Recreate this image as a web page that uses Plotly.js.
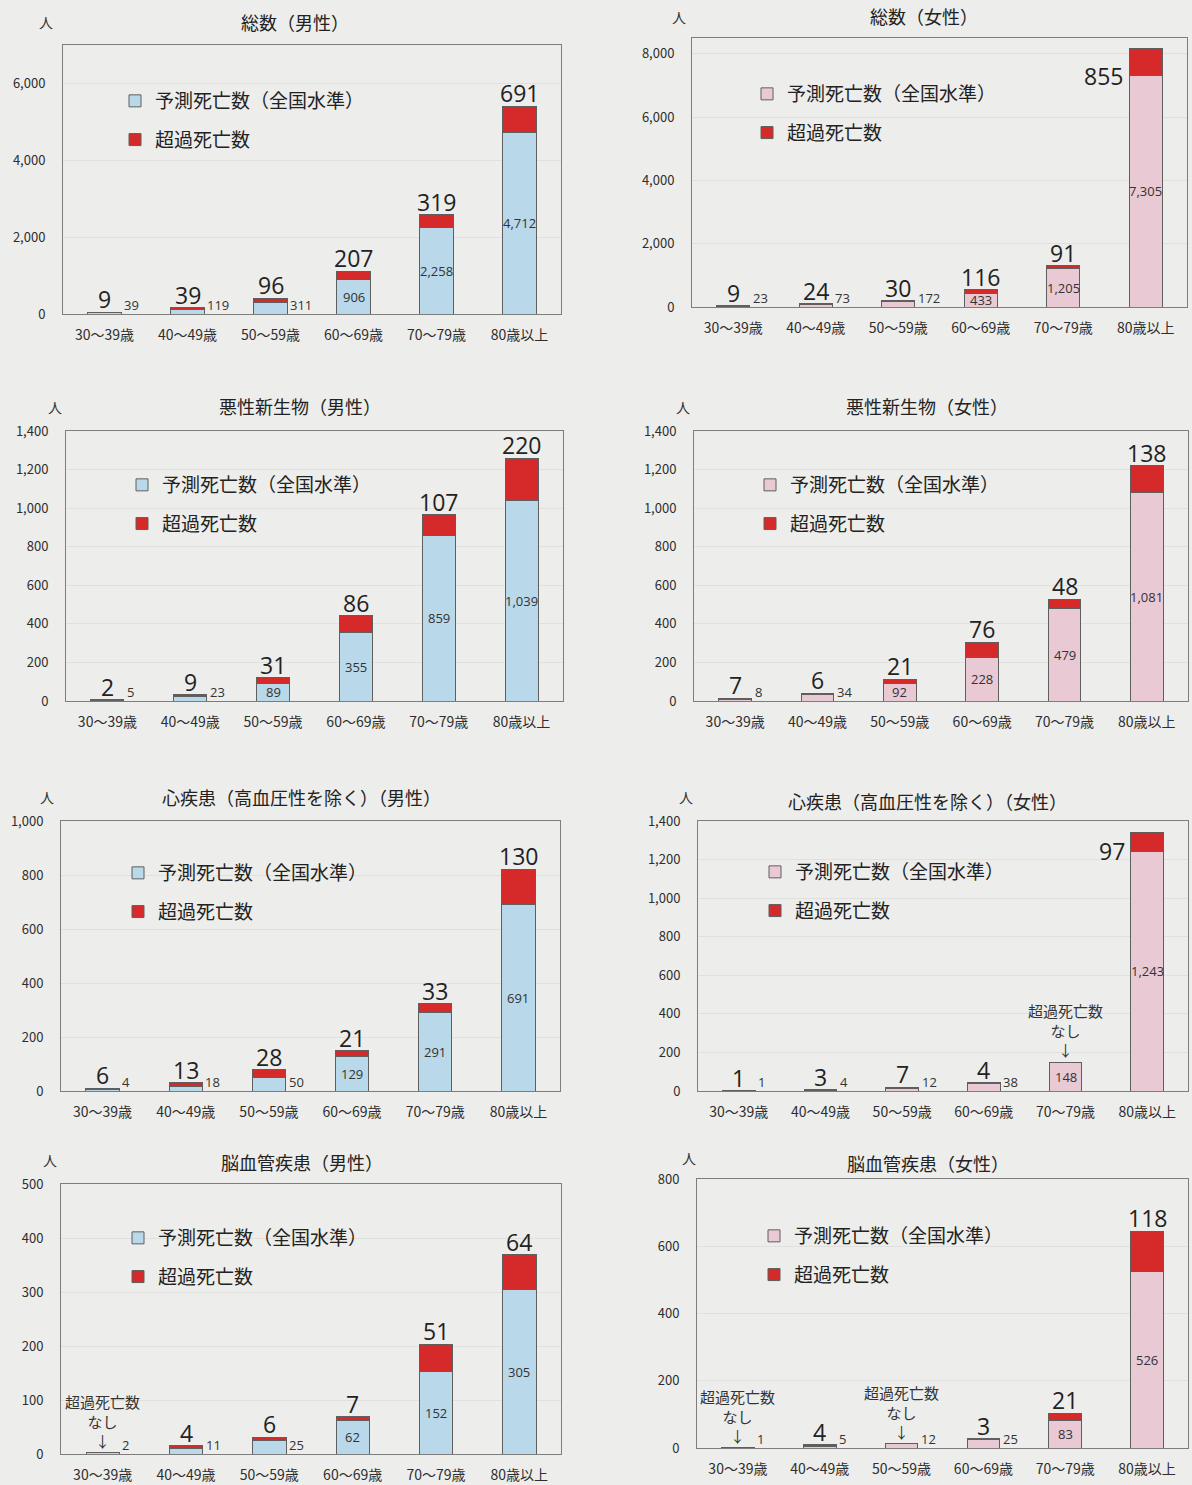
<!DOCTYPE html>
<html>
<head>
<meta charset="utf-8">
<script src="https://cdn.plot.ly/plotly-3.0.1.min.js"></script>
<style>
html,body{margin:0;padding:0;background:#ededeb;}
#chart{width:1192px;height:1485px;}
</style>
</head>
<body>
<div id="chart"></div>
<script>
// ---- Data ----
const ageGroups = ['30～39歳','40～49歳','50～59歳','60～69歳','70～79歳','80歳以上'];
const legendPred = '予測死亡数（全国水準）';
const legendExcess = '超過死亡数';
const noExcessText = '超過死亡数<br>なし<br>↓';
const unitLabel = '人';

const titles = ['総数（男性）','総数（女性）','悪性新生物（男性）','悪性新生物（女性）',
  '心疾患（高血圧性を除く）（男性）','心疾患（高血圧性を除く）（女性）','脳血管疾患（男性）','脳血管疾患（女性）'];

const totalMalePred      = [39, 119, 311, 906, 2258, 4712];
const totalMaleExcess    = [9, 39, 96, 207, 319, 691];
const totalFemalePred    = [23, 73, 172, 433, 1205, 7305];
const totalFemaleExcess  = [9, 24, 30, 116, 91, 855];
const cancerMalePred     = [5, 23, 89, 355, 859, 1039];
const cancerMaleExcess   = [2, 9, 31, 86, 107, 220];
const cancerFemalePred   = [8, 34, 92, 228, 479, 1081];
const cancerFemaleExcess = [7, 6, 21, 76, 48, 138];
const heartMalePred      = [4, 18, 50, 129, 291, 691];
const heartMaleExcess    = [6, 13, 28, 21, 33, 130];
const heartFemalePred    = [1, 4, 12, 38, 148, 1243];
const heartFemaleExcess  = [1, 3, 7, 4, 0, 97];
const strokeMalePred     = [2, 11, 25, 62, 152, 305];
const strokeMaleExcess   = [0, 4, 6, 7, 51, 64];
const strokeFemalePred   = [1, 5, 12, 25, 83, 526];
const strokeFemaleExcess = [0, 4, 0, 3, 21, 118];

// ---- Styles / layout config ----
const W = 1192, H = 1485;
const BLUE = '#b9d8e9', PINK = '#e9c9d3', RED = '#d62a2a', OUTLINE = '#5f5f5f';
const JP = '"Noto Sans CJK JP", "Noto Sans", sans-serif';
const NUM = '"Open Sans", "Noto Sans", sans-serif';

const panels = [
  {pred: totalMalePred, exc: totalMaleExcess, color: BLUE, box: [63, 45, 561, 314], range: 7000, dtick: 2000, insideFrom: 3, leftIdx: -1, leg: [135, 97], title: [295, 22], unit: [46, 22]},
  {pred: totalFemalePred, exc: totalFemaleExcess, color: PINK, box: [692, 38, 1187, 307], range: 8500, dtick: 2000, insideFrom: 3, leftIdx: 5, leg: [767, 90], title: [924, 16], unit: [679, 17]},
  {pred: cancerMalePred, exc: cancerMaleExcess, color: BLUE, box: [66, 431, 563, 701], range: 1400, dtick: 200, insideFrom: 2, leftIdx: -1, leg: [142, 481], title: [300, 406], unit: [55, 407]},
  {pred: cancerFemalePred, exc: cancerFemaleExcess, color: PINK, box: [694, 431, 1188, 701], range: 1400, dtick: 200, insideFrom: 2, leftIdx: -1, leg: [770, 481], title: [927, 406], unit: [683, 407]},
  {pred: heartMalePred, exc: heartMaleExcess, color: BLUE, box: [61, 821, 560, 1091], range: 1000, dtick: 200, insideFrom: 3, leftIdx: -1, leg: [138, 869], title: [301, 797], unit: [47, 797]},
  {pred: heartFemalePred, exc: heartFemaleExcess, color: PINK, box: [698, 821, 1188, 1091], range: 1400, dtick: 200, insideFrom: 4, leftIdx: 5, leg: [775, 868], title: [927, 801], unit: [686, 797]},
  {pred: strokeMalePred, exc: strokeMaleExcess, color: BLUE, box: [61, 1184, 561, 1454], range: 500, dtick: 100, insideFrom: 3, leftIdx: -1, leg: [138, 1234], title: [302, 1162], unit: [50, 1160]},
  {pred: strokeFemalePred, exc: strokeFemaleExcess, color: PINK, box: [697, 1179, 1188, 1448], range: 800, dtick: 200, insideFrom: 4, leftIdx: -1, leg: [774, 1232], title: [928, 1163], unit: [689, 1158]}
];

const BARW = 0.4;
const px = x => x / W;
const py = y => 1 - y / H;

const traces = [];
const annotations = [];
const layout = {
  width: W, height: H,
  margin: {l: 0, r: 0, t: 0, b: 0},
  paper_bgcolor: '#ededeb',
  plot_bgcolor: '#ededeb',
  barmode: 'stack',
  showlegend: true,
  font: {family: JP, color: '#333'}
};

panels.forEach((p, k) => {
  const n = k + 1;
  const sfx = n > 1 ? String(n) : '';
  const xr = 'x' + sfx, yr = 'y' + sfx;
  const lg = 'legend' + sfx;
  const boxW = p.box[2] - p.box[0];
  const halfBarPx = BARW / 2 * boxW / ageGroups.length;

  traces.push({
    type: 'bar', x: ageGroups, y: p.pred, xaxis: xr, yaxis: yr, width: BARW,
    name: legendPred, legend: lg, legendgroup: 'p' + n,
    marker: {color: p.color, line: {color: OUTLINE, width: 1}},
    hoverinfo: 'skip'
  });
  traces.push({
    type: 'bar', x: ageGroups, y: p.exc, xaxis: xr, yaxis: yr, width: BARW,
    name: legendExcess, legend: lg, legendgroup: 'e' + n,
    marker: {color: RED, line: {color: OUTLINE, width: 1}},
    hoverinfo: 'skip'
  });

  layout['xaxis' + sfx] = {
    domain: [px(p.box[0]), px(p.box[2])], anchor: yr, type: 'category',
    categoryorder: 'array', categoryarray: ageGroups,
    range: [-0.5, ageGroups.length - 0.5],
    showline: true, mirror: true, linecolor: '#7d7d7d', linewidth: 1,
    ticks: 'outside', ticklen: 8, tickcolor: 'rgba(0,0,0,0)',
    tickfont: {family: JP, size: 14, color: '#2e2e2e'},
    showgrid: false, zeroline: false, automargin: false, fixedrange: true
  };
  layout['yaxis' + sfx] = {
    domain: [py(p.box[3]), py(p.box[1])], anchor: xr,
    range: [0, p.range], tick0: 0, dtick: p.dtick, tickformat: ',d',
    showline: true, mirror: true, linecolor: '#7d7d7d', linewidth: 1,
    ticks: 'outside', ticklen: 14, tickcolor: 'rgba(0,0,0,0)',
    tickfont: {family: JP, size: 13, color: '#2e2e2e'},
    showgrid: true, gridcolor: 'rgba(0,0,0,0.05)', gridwidth: 1,
    zeroline: false, automargin: false, fixedrange: true
  };

  layout[lg] = {
    x: px(p.leg[0] - 20), y: py(p.leg[1] - 15), xref: 'paper', yref: 'paper',
    xanchor: 'left', yanchor: 'top',
    bgcolor: 'rgba(0,0,0,0)', borderwidth: 0,
    font: {family: JP, size: 19, color: '#222'},
    traceorder: 'grouped', tracegroupgap: 11,
    itemclick: false, itemdoubleclick: false
  };

  // titles and unit label
  annotations.push({xref: 'paper', yref: 'paper', x: px(p.title[0]), y: py(p.title[1]),
    xanchor: 'center', yanchor: 'middle', showarrow: false, text: titles[k],
    font: {family: JP, size: 18, color: '#222'}});
  annotations.push({xref: 'paper', yref: 'paper', x: px(p.unit[0]), y: py(p.unit[1]),
    xanchor: 'center', yanchor: 'middle', showarrow: false, text: unitLabel,
    font: {family: JP, size: 14, color: '#333'}});

  ageGroups.forEach((cat, i) => {
    const pv = p.pred[i], ev = p.exc[i];
    // predicted label
    if (i >= p.insideFrom) {
      annotations.push({xref: xr, yref: yr, x: cat, y: pv / 2, xanchor: 'center', yanchor: 'middle',
        showarrow: false, text: pv.toLocaleString('en-US'),
        font: {family: NUM, size: 13, color: '#333'}});
    } else {
      annotations.push({xref: xr, yref: yr, x: cat, y: 0, xanchor: 'left', yanchor: 'bottom',
        xshift: halfBarPx + 1, yshift: -2, showarrow: false, text: pv.toLocaleString('en-US'),
        font: {family: NUM, size: 13, color: '#333'}});
    }
    // excess label
    if (ev === 0) {
      annotations.push({xref: xr, yref: yr, x: cat, y: pv, xanchor: 'center', yanchor: 'bottom',
        yshift: 0, showarrow: false, text: noExcessText,
        font: {family: JP, size: 15, color: '#333'}});
    } else if (i === p.leftIdx) {
      annotations.push({xref: xr, yref: yr, x: cat, y: pv, xanchor: 'right', yanchor: 'middle',
        xshift: -(halfBarPx + 4), yshift: 0, showarrow: false, text: ev.toLocaleString('en-US'),
        font: {family: NUM, size: 23, color: '#222'}});
    } else {
      annotations.push({xref: xr, yref: yr, x: cat, y: pv + ev, xanchor: 'center', yanchor: 'bottom',
        yshift: -5, showarrow: false, text: ev.toLocaleString('en-US'),
        font: {family: NUM, size: 23, color: '#222'}});
    }
  });
});

layout.annotations = annotations;

Plotly.newPlot('chart', traces, layout, {displayModeBar: false, staticPlot: true});
</script>
</body>
</html>
